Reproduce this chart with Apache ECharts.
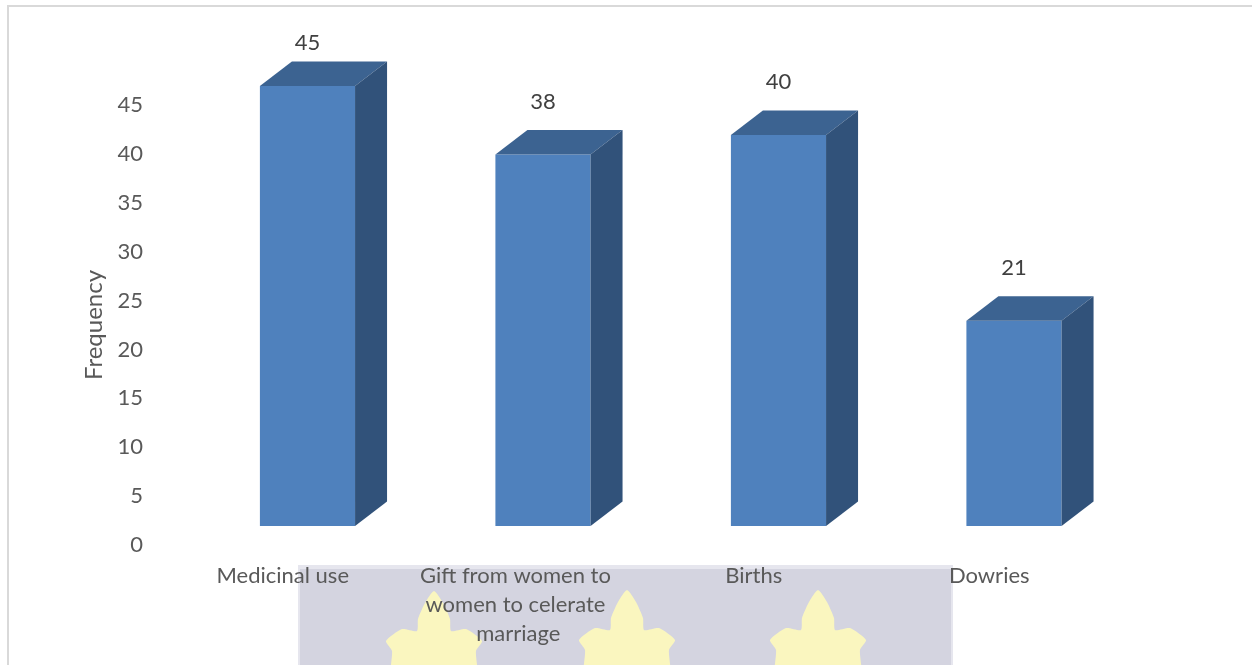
<!DOCTYPE html>
<html>
<head>
<meta charset="utf-8">
<script src="https://cdn.jsdelivr.net/npm/echarts@6/dist/echarts.min.js"></script>
<style>
  html, body { margin: 0; padding: 0; background: #ffffff; }
  #chart { width: 1252px; height: 665px; }
</style>
</head>
<body>
<div id="chart"></div>
<script>
// Uses of the item, by how often respondents named them
const categories = [
  'Medicinal use',
  'Gift from women to women to celerate marriage',
  'Births',
  'Dowries'
];
const frequency = [45, 38, 40, 21];
const yTicks = { min: 0, max: 45, interval: 5 };

// Palette for the three visible faces of each block
const FRONT = '#4f81bd';
const TOP = '#3c6391';
const SIDE = '#31527a';
const TEXT = '#595959';
const FONT = 'Lato, "Noto Sans", sans-serif';

// Depth of the pseudo-3D blocks (screen pixels)
const DEPTH_X = 32;
const DEPTH_Y = 24.5;
const FLOOR_LIFT = 19;

function renderBlock(params, api) {
  const idx = api.value(0);
  const val = api.value(1);
  const top = api.coord([idx, val]);
  const base = api.coord([idx, 0]);
  const ceiling = api.coord([idx, yTicks.max]);
  const band = api.size([1, 0])[0];
  const w = band * 0.404;
  const cx = top[0] + band * 0.105;
  const xL = cx - w / 2;
  const xR = cx + w / 2;
  const yT = top[1] - FLOOR_LIFT;
  const yB = base[1] - FLOOR_LIFT;
  const labelY = Math.max(yT - DEPTH_Y - 28.5, ceiling[1] - 62);

  return {
    type: 'group',
    children: [
      {
        type: 'rect',
        shape: { x: xL, y: yT, width: w, height: yB - yT },
        style: { fill: FRONT }
      },
      {
        type: 'polygon',
        shape: { points: [[xL, yT], [xR, yT], [xR + DEPTH_X, yT - DEPTH_Y], [xL + DEPTH_X, yT - DEPTH_Y]] },
        style: { fill: TOP }
      },
      {
        type: 'polygon',
        shape: { points: [[xR, yT], [xR + DEPTH_X, yT - DEPTH_Y], [xR + DEPTH_X, yB - DEPTH_Y], [xR, yB]] },
        style: { fill: SIDE }
      },
      {
        type: 'text',
        x: cx,
        y: labelY,
        style: {
          text: String(val),
          fill: '#404040',
          font: '22px ' + FONT,
          align: 'center',
          verticalAlign: 'middle'
        }
      }
    ]
  };
}

// Decorative crest stamped along the lower band
function flame(tx, ty) {
  return {
    type: 'polygon',
    z: -5,
    shape: {
      smooth: 0.2,
      points: [
        [tx, ty], [tx + 9, ty + 12], [tx + 16, ty + 28], [tx + 17, ty + 40],
        [tx + 32, ty + 38], [tx + 48, ty + 50], [tx + 42, ty + 60], [tx + 42, ty + 90],
        [tx - 42, ty + 90], [tx - 42, ty + 60], [tx - 48, ty + 50], [tx - 32, ty + 38],
        [tx - 17, ty + 40], [tx - 16, ty + 28], [tx - 9, ty + 12]
      ]
    },
    style: { fill: '#faf6bf' }
  };
}

const chart = echarts.init(document.getElementById('chart'), null, { renderer: 'canvas' });

chart.setOption({
  backgroundColor: '#ffffff',
  animation: false,
  graphic: [
    {
      type: 'rect', z: -10,
      shape: { x: 8, y: 6, width: 1270, height: 700 },
      style: { fill: 'none', stroke: '#d9d9d9', lineWidth: 2 }
    },
    {
      type: 'rect', z: -9,
      shape: { x: 298, y: 565, width: 655, height: 110 },
      style: { fill: '#e6e6ee' }
    },
    {
      type: 'rect', z: -8,
      shape: { x: 300, y: 569, width: 651, height: 100 },
      style: { fill: '#d4d4e0' }
    },
    flame(434, 591),
    flame(627, 590),
    flame(818, 590)
  ],
  grid: { left: 165, right: 145, top: 105, bottom: 120, containLabel: false },
  xAxis: {
    type: 'category',
    data: categories,
    axisLine: { show: false },
    axisTick: { show: false },
    splitLine: { show: false },
    axisLabel: {
      interval: 0,
      margin: 16,
      color: TEXT,
      fontFamily: FONT,
      fontSize: 22,
      lineHeight: 29,
      width: 225,
      overflow: 'break'
    }
  },
  yAxis: {
    type: 'value',
    min: yTicks.min,
    max: yTicks.max,
    interval: yTicks.interval,
    name: 'Frequency',
    nameLocation: 'middle',
    nameGap: 57,
    nameTextStyle: { color: TEXT, fontFamily: FONT, fontSize: 24 },
    axisLine: { show: false },
    axisTick: { show: false },
    splitLine: { show: false },
    axisLabel: { color: TEXT, fontFamily: FONT, fontSize: 22, margin: 22 }
  },
  series: [{
    type: 'custom',
    renderItem: renderBlock,
    data: frequency.map((v, i) => [i, v]),
    encode: { x: 0, y: 1 },
    clip: false
  }]
});
</script>
</body>
</html>
